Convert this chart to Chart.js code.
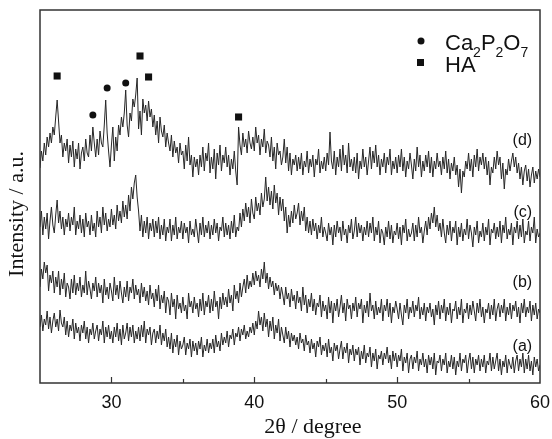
<!DOCTYPE html>
<html>
<head>
<meta charset="utf-8">
<script src="https://cdn.jsdelivr.net/npm/chart.js@4.4.0/dist/chart.umd.min.js"></script>
<style>
  html, body { margin: 0; padding: 0; background: #fff; }
  canvas { display: block; }
</style>
</head>
<body>
<canvas id="xrdChart" width="552" height="439"></canvas>
<script>
// 2theta grid, 0.1 degree steps from 25 to 60
angles = [];
for (i = 0; i <= 350; i++) {
  angles.push(Math.round((25 + i * 0.1) * 10) / 10);
}

// intensities (a.u.), one row per degree
sampleD = [
  215, 232, 222, 240, 228, 246, 236, 250, 240, 256,
  248, 266, 283, 262, 240, 248, 226, 240, 232, 244,
  220, 238, 226, 242, 216, 234, 224, 240, 214, 230,
  236, 222, 244, 230, 226, 248, 232, 256, 240, 226,
  244, 228, 252, 240, 236, 258, 283, 250, 232, 216,
  238, 256, 222, 246, 232, 258, 248, 266, 256, 270,
  293, 258, 246, 270, 262, 284, 276, 288, 305, 254,
  272, 248, 284, 270, 278, 262, 282, 266, 274, 256,
  268, 248, 262, 240, 266, 252, 246, 258, 236, 250,
  240, 232, 248, 226, 242, 230, 236, 220, 240, 228,
  232, 214, 238, 222, 246, 218, 228, 206, 226, 216,
  224, 208, 228, 216, 236, 212, 230, 222, 240, 210,
  226, 214, 234, 204, 230, 218, 238, 212, 228, 220,
  236, 216, 228, 208, 224, 214, 232, 212, 198, 256,
  238, 228, 250, 236, 244, 230, 252, 240, 234, 246,
  232, 256, 240, 248, 228, 244, 236, 254, 230, 242,
  238, 226, 246, 222, 236, 214, 240, 228, 232, 218,
  226, 244, 220, 236, 212, 230, 208, 224, 218, 228,
  212, 226, 214, 230, 208, 222, 216, 232, 210, 224,
  216, 228, 206, 224, 218, 234, 210, 222, 214, 226,
  212, 230, 218, 251, 222, 214, 232, 208, 226, 216,
  234, 212, 238, 218, 228, 210, 240, 216, 224, 212,
  226, 210, 230, 204, 222, 214, 234, 216, 226, 208,
  222, 236, 214, 232, 220, 238, 216, 228, 208, 224,
  216, 230, 210, 226, 218, 234, 208, 222, 214, 226,
  210, 228, 216, 234, 212, 226, 206, 222, 214, 230,
  218, 204, 224, 212, 236, 216, 228, 206, 222, 212,
  228, 216, 232, 210, 226, 206, 222, 214, 230, 216,
  222, 208, 226, 214, 232, 210, 224, 204, 220, 212,
  226, 208, 218, 196, 214, 190, 212, 206, 222, 214,
  230, 212, 224, 206, 228, 216, 234, 212, 226, 218,
  230, 214, 226, 208, 222, 198, 216, 210, 226, 214,
  232, 218, 226, 204, 220, 194, 214, 208, 224, 212,
  222, 230, 216, 226, 210, 220, 204, 216, 198, 212,
  218, 202, 214, 196, 208, 216, 200, 212, 204, 214,
  206
];

sampleC = [
  156, 172, 148, 166, 154, 170, 144, 162, 176, 158,
  150, 168, 183, 160, 172, 154, 166, 148, 164, 156,
  170, 152, 166, 158, 176, 148, 162, 154, 168, 150,
  164, 146, 170, 156, 162, 148, 168, 152, 160, 146,
  172, 156, 166, 150, 176, 158, 170, 152, 164, 156,
  174, 158, 168, 154, 178, 162, 172, 160, 182, 166,
  178, 164, 188, 172, 196, 184, 200, 208, 186, 172,
  152, 168, 146, 162, 150, 166, 144, 160, 152, 164,
  146, 162, 150, 166, 144, 158, 148, 164, 142, 156,
  150, 164, 142, 158, 148, 166, 144, 156, 150, 162,
  144, 160, 150, 156, 140, 162, 148, 154, 146, 164,
  152, 140, 160, 148, 166, 146, 158, 150, 162, 144,
  158, 148, 164, 150, 160, 142, 156, 152, 166, 146,
  160, 148, 158, 144, 162, 150, 168, 146, 156, 152,
  170, 156, 174, 162, 180, 166, 176, 160, 184, 170,
  164, 186, 172, 180, 168, 190, 176, 184, 206, 182,
  196, 178, 192, 174, 198, 180, 190, 168, 186, 172,
  184, 162, 176, 150, 168, 156, 172, 160, 178, 164,
  170, 180, 158, 172, 162, 176, 152, 166, 150, 162,
  148, 164, 152, 160, 144, 158, 150, 166, 146, 156,
  150, 142, 160, 148, 156, 138, 158, 146, 162, 150,
  156, 142, 162, 148, 154, 140, 158, 150, 164, 144,
  152, 166, 146, 160, 150, 158, 142, 156, 148, 162,
  146, 160, 150, 166, 142, 156, 148, 162, 140, 154,
  150, 138, 156, 146, 162, 144, 158, 140, 152, 148,
  160, 144, 156, 138, 158, 150, 164, 142, 154, 146,
  150, 160, 142, 158, 146, 166, 150, 156, 140, 152,
  162, 148, 166, 154, 170, 160, 176, 156, 168, 152,
  160, 146, 164, 150, 140, 158, 148, 162, 142, 156,
  150, 162, 138, 156, 146, 160, 142, 154, 148, 164,
  144, 158, 150, 136, 156, 148, 162, 140, 152, 146,
  160, 142, 156, 148, 164, 138, 154, 150, 160, 144,
  156, 146, 162, 140, 158, 150, 166, 144, 154, 148,
  160, 138, 156, 150, 162, 144, 158, 146, 164, 140,
  152, 148, 162, 142, 156, 150, 166, 140, 154, 146,
  150
];

sampleB = [
  96, 114, 104, 121, 110, 118, 92, 108, 100, 112,
  90, 106, 96, 112, 88, 104, 94, 110, 86, 100,
  96, 84, 104, 90, 108, 88, 100, 92, 106, 86,
  98, 90, 112, 88, 102, 94, 84, 100, 92, 106,
  86, 100, 90, 98, 80, 104, 88, 96, 84, 100,
  92, 82, 106, 88, 98, 84, 102, 90, 80, 96,
  86, 102, 82, 96, 90, 104, 84, 98, 88, 94,
  80, 100, 86, 96, 82, 92, 78, 98, 84, 90,
  76, 94, 82, 98, 74, 88, 80, 92, 70, 86,
  82, 68, 90, 76, 84, 64, 88, 74, 80, 70,
  86, 72, 78, 64, 90, 76, 82, 70, 86, 74,
  80, 66, 84, 72, 90, 68, 82, 76, 88, 70,
  84, 72, 92, 76, 82, 64, 86, 74, 90, 78,
  86, 76, 94, 80, 88, 72, 98, 84, 92, 80,
  100, 86, 96, 104, 90, 108, 94, 102, 96, 110,
  98, 112, 102, 108, 96, 114, 104, 121, 100, 110,
  94, 106, 96, 102, 88, 100, 92, 98, 84, 96,
  88, 78, 96, 84, 90, 76, 94, 82, 88, 74,
  92, 80, 86, 72, 96, 78, 88, 70, 84, 76,
  90, 72, 84, 68, 80, 76, 88, 66, 82, 72,
  78, 64, 86, 70, 82, 60, 80, 72, 84, 66,
  76, 88, 70, 80, 62, 84, 74, 78, 64, 80,
  72, 86, 66, 80, 74, 84, 60, 78, 70, 82,
  66, 90, 72, 78, 64, 82, 68, 76, 70, 84,
  62, 78, 72, 84, 66, 80, 60, 76, 70, 82,
  74, 64, 80, 68, 58, 78, 70, 84, 64, 76,
  70, 82, 66, 78, 72, 86, 64, 76, 68, 80,
  62, 76, 70, 80, 66, 74, 58, 78, 68, 82,
  64, 78, 70, 84, 62, 76, 68, 80, 60, 74,
  72, 82, 64, 76, 68, 84, 60, 74, 70, 80,
  64, 78, 68, 82, 72, 62, 80, 70, 84, 66,
  76, 60, 74, 70, 80, 64, 78, 68, 84, 62,
  74, 80, 66, 78, 70, 84, 62, 76, 68, 80,
  64, 78, 72, 82, 66, 76, 60, 80, 70, 84,
  66, 76, 70, 82, 62, 78, 68, 80, 64, 74,
  70
];

sampleA = [
  56, 68, 52, 64, 58, 72, 54, 66, 50, 62,
  70, 56, 64, 52, 73, 60, 56, 66, 48, 62,
  46, 58, 52, 64, 44, 60, 50, 56, 42, 58,
  50, 62, 44, 56, 40, 54, 48, 60, 44, 52,
  58, 42, 54, 48, 62, 40, 56, 46, 58, 44,
  52, 40, 56, 46, 60, 42, 54, 38, 58, 44,
  50, 60, 42, 56, 46, 58, 40, 52, 44, 56,
  42, 58, 46, 62, 40, 54, 48, 56, 38, 50,
  54, 40, 52, 44, 58, 38, 50, 42, 54, 36,
  46, 34, 50, 30, 44, 36, 48, 28, 42, 34,
  38, 46, 28, 40, 34, 44, 26, 42, 32, 40,
  28, 42, 34, 46, 26, 38, 32, 44, 30, 40,
  34, 44, 30, 48, 36, 42, 32, 50, 38, 46,
  40, 52, 36, 48, 44, 54, 38, 50, 46, 56,
  42, 54, 48, 58, 44, 52, 46, 56, 50, 60,
  48, 62, 54, 72, 58, 66, 52, 70, 56, 64,
  46, 62, 52, 66, 44, 58, 50, 64, 42, 56,
  48, 40, 56, 44, 52, 36, 50, 42, 48, 38,
  46, 34, 50, 40, 44, 32, 48, 38, 42, 30,
  44, 34, 40, 26, 42, 36, 46, 28, 38, 32,
  40, 26, 44, 30, 36, 22, 40, 32, 38, 24,
  34, 42, 24, 36, 30, 40, 20, 34, 28, 38,
  22, 34, 28, 36, 18, 32, 24, 38, 20, 30,
  26, 36, 16, 30, 22, 34, 14, 28, 24, 32,
  18, 30, 24, 36, 20, 28, 14, 32, 22, 30,
  16, 28, 22, 34, 12, 26, 20, 30, 10, 24,
  28, 14, 26, 20, 32, 12, 24, 18, 30, 16,
  24, 10, 28, 18, 26, 14, 30, 8, 22, 20,
  28, 12, 24, 18, 30, 10, 22, 16, 28, 14,
  26, 8, 22, 16, 30, 12, 24, 20, 28, 10,
  22, 30, 14, 26, 10, 24, 18, 28, 12, 24,
  16, 28, 10, 22, 18, 30, 12, 26, 14, 22,
  30, 12, 24, 8, 22, 16, 28, 10, 24, 18,
  14, 26, 10, 22, 28, 12, 24, 16, 30, 10,
  24, 14, 28, 12, 22, 8, 26, 16, 24, 12,
  18
];

// peak markers
haAngles = [26.2, 32.0, 32.6, 38.9];
haHeights = [307, 327, 306, 266];
pyroAngles = [28.7, 29.7, 31.0];
pyroHeights = [268, 295, 300];

sampleNames = ['(a)', '(b)', '(c)', '(d)'];
xTicks = [25, 30, 35, 40, 45, 50, 55, 60];
xTitle = '2θ / degree';
yTitle = 'Intensity / a.u.';

lineColor = '#262626';

function toPoints(xs, ys){
  return xs.map((v, k) => ({x: v, y: ys[k]}));
}

function traceSet(values){
  return {
    data: toPoints(angles, values),
    borderColor: lineColor,
    borderWidth: 1,
    pointRadius: 0,
    tension: 0,
    fill: false
  };
}

//Frame, inward ticks, axis titles, sample tags and the legend
const decorPlugin = {
  id: 'decor',
  afterDatasetsDraw(chart) {
    const ctx = chart.ctx;
    const area = chart.chartArea;
    const x = chart.scales.x;
    const y = chart.scales.y;
    ctx.save();

    ctx.strokeStyle = '#333';
    ctx.lineWidth = 1.5;
    ctx.strokeRect(area.left, area.top, area.right - area.left, area.bottom - area.top);

    ctx.lineWidth = 1.2;
    xTicks.forEach(v => {
      if (v === 25 || v === 60) return;
      len = (v % 10 === 0) ? 6 : 4;
      px = Math.round(x.getPixelForValue(v)) + 0.5;
      ctx.beginPath();
      ctx.moveTo(px, area.bottom);
      ctx.lineTo(px, area.bottom - len);
      ctx.stroke();
    });

    // axis titles (placed off-centre like the original)
    ctx.fillStyle = '#111';
    ctx.font = '22px "Liberation Serif"';
    ctx.textAlign = 'center';
    ctx.textBaseline = 'middle';
    ctx.fillText(xTitle, 313, 427);
    ctx.save();
    ctx.translate(17, 214);
    ctx.rotate(-Math.PI / 2);
    ctx.fillText(yTitle, 0, 0);
    ctx.restore();

    // sample tags at the right end of each trace
    tagHeights = [36, 100, 170, 242];
    ctx.font = '16px "Liberation Sans"';
    ctx.textAlign = 'right';
    ctx.textBaseline = 'middle';
    sampleNames.forEach((name, k) => {
      ctx.fillText(name, x.getPixelForValue(59.45), y.getPixelForValue(tagHeights[k]));
    });

    // legend
    lx = area.left + 381;
    ctx.beginPath();
    ctx.arc(lx, area.top + 31, 3.5, 0, Math.PI * 2);
    ctx.fill();
    ctx.fillRect(lx - 4, area.top + 49, 7, 7);

    ctx.textAlign = 'left';
    ctx.textBaseline = 'alphabetic';
    tx = lx + 24;
    parts = [['Ca', 0], ['2', 1], ['P', 0], ['2', 1], ['O', 0], ['7', 1]];
    parts.forEach(p => {
      if (p[1]) {
        ctx.font = '14px "Liberation Sans"';
        ctx.fillText(p[0], tx, area.top + 47);
      } else {
        ctx.font = '22px "Liberation Sans"';
        ctx.fillText(p[0], tx, area.top + 40);
      }
      tx += ctx.measureText(p[0]).width;
    });
    ctx.font = '22px "Liberation Sans"';
    ctx.fillText('HA', lx + 24, area.top + 62);

    ctx.restore();
  }
};

const config = {
  type: 'line',
  data: {
    datasets: [
      traceSet(sampleA),
      traceSet(sampleB),
      traceSet(sampleC),
      traceSet(sampleD),
      {
        type: 'scatter',
        data: toPoints(haAngles, haHeights),
        pointStyle: 'rect',
        pointRadius: 5,
        backgroundColor: '#111',
        borderWidth: 0
      },
      {
        type: 'scatter',
        data: toPoints(pyroAngles, pyroHeights),
        pointStyle: 'circle',
        pointRadius: 3.5,
        backgroundColor: '#111',
        borderWidth: 0
      }
    ]
  },
  options: {
    responsive: false,
    animation: false,
    layout: {
      padding: {top: 10, right: 12, bottom: 0, left: 0}
    },
    plugins: {
      legend: {display: false},
      tooltip: {enabled: false}
    },
    scales: {
      x: {
        type: 'linear',
        min: 25,
        max: 60,
        afterBuildTicks: s => { s.ticks = xTicks.map(v => ({value: v})); },
        afterFit: s => {
          s.height = 56;
          s.paddingLeft = 0;
          s.paddingRight = 12;
        },
        grid: {display: false, drawTicks: false},
        border: {display: false},
        ticks: {
          autoSkip: false,
          maxRotation: 0,
          padding: 9,
          color: '#111',
          font: {family: 'Liberation Sans', size: 18},
          callback: v => (v % 10 === 0 ? String(v) : '')
        },
        title: {display: false}
      },
      y: {
        min: 0,
        max: 373,
        afterFit: s => { s.width = 40; },
        grid: {display: false, drawTicks: false},
        border: {display: false},
        ticks: {display: false},
        title: {display: false}
      }
    }
  },
  plugins: [decorPlugin]
};

const xrdChart = new Chart(
  document.getElementById('xrdChart'),
  config
);
</script>
</body>
</html>
